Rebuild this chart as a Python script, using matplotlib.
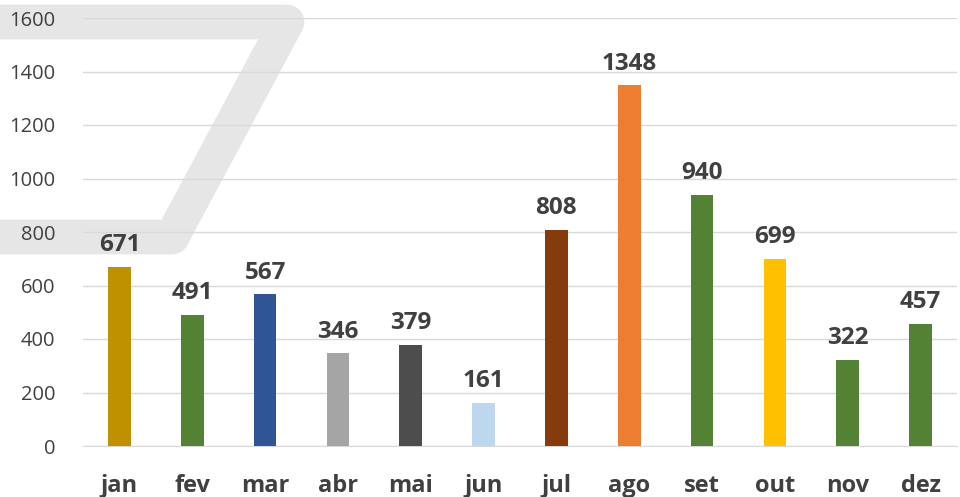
import matplotlib.pyplot as plt
from matplotlib.lines import Line2D

plt.rcParams['font.family'] = ['Open Sans', 'DejaVu Sans']

# ── dados ─────────────────────────────────────────────
meses = ["jan", "fev", "mar", "abr", "mai", "jun",
         "jul", "ago", "set", "out", "nov", "dez"]
valores = [671, 491, 567, 346, 379, 161, 808, 1348, 940, 699, 322, 457]
cores = ["#BF9000", "#548235", "#2F5597", "#A5A5A5", "#4D4D4D", "#BDD7EE",
         "#843C0C", "#ED7D31", "#548235", "#FFC000", "#548235", "#548235"]

W, H = 960, 497
fig = plt.figure(figsize=(W / 100, H / 100), dpi=100)

# marca d'água cinza (forma de "7") atrás do gráfico
wm_x = [-20, 287, 172, -20]
wm_y = [22, 22, 237, 237]
fig.add_artist(Line2D([x / W for x in wm_x], [1 - y / H for y in wm_y],
                      transform=fig.transFigure, color="#e6e6e6", lw=25,
                      solid_joinstyle="round", solid_capstyle="butt", zorder=-1))

ax = fig.add_axes([83 / W, 51 / H, (957 - 83) / W, (446 - 18) / H])
ax.patch.set_alpha(0)

x = range(len(meses))
barras = ax.bar(x, valores, width=0.31, color=cores, zorder=3)
ax.bar_label(barras, labels=[str(v) for v in valores], padding=7,
             fontsize=17.5, fontweight="bold", color="#404040")

ax.set_xlim(-0.5, 11.5)
ax.set_ylim(0, 1600)
ax.set_yticks(range(0, 1601, 200))
ax.yaxis.grid(True, color="#d9d9d9", lw=1, zorder=0)
ax.set_axisbelow(True)
for s in ["top", "right", "left"]:
    ax.spines[s].set_visible(False)
ax.spines["bottom"].set_color("#d9d9d9")
ax.tick_params(axis="y", length=0, labelsize=14.5, labelcolor="#404040", pad=20)
ax.tick_params(axis="x", length=0, labelsize=17, labelcolor="#404040", pad=20)
ax.set_xticks(list(x))
ax.set_xticklabels(meses, fontweight="bold")

fig.savefig("out.png", dpi=100)
